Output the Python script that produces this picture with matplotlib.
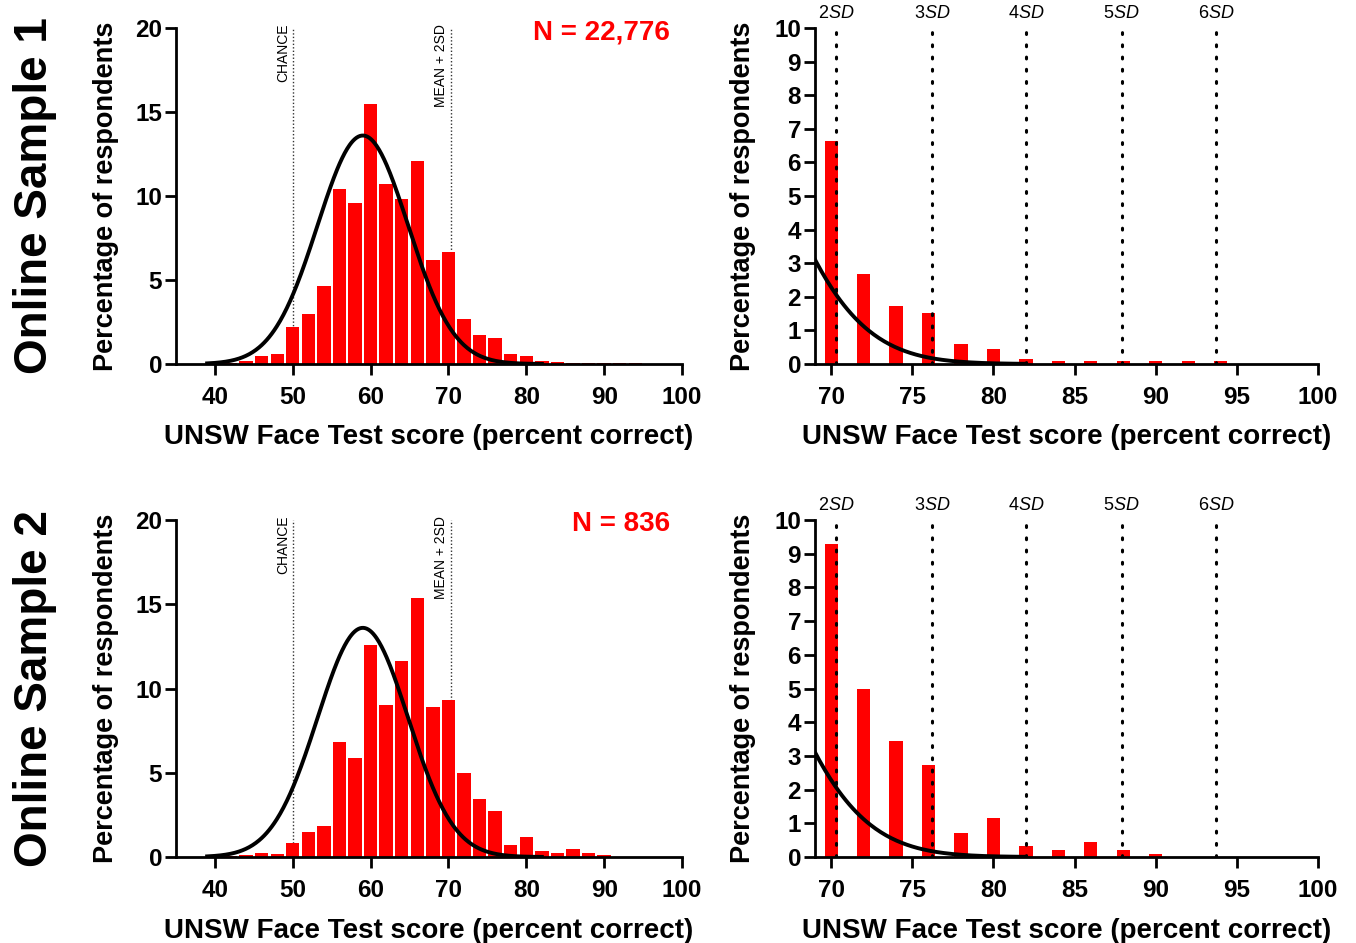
import numpy as np
import matplotlib
matplotlib.use('Agg')
import matplotlib.pyplot as plt

plt.rcParams['font.family'] = 'Liberation Sans'
plt.rcParams['mathtext.fontset'] = 'custom'
plt.rcParams['mathtext.rm'] = 'Liberation Sans:italic'
plt.rcParams['mathtext.it'] = 'Liberation Sans:italic'

# score bins (percent correct)
scores1 = [40, 42, 44, 46, 48, 50, 52, 54, 56, 58, 60, 62, 64, 66, 68,
           70, 72, 74, 76, 78, 80, 82, 84, 86, 88, 90, 92, 94]
pct1 = [0.1, 0.08, 0.2, 0.5, 0.6, 2.2, 3.0, 4.65, 10.4, 9.6, 15.5, 10.7, 9.8, 12.1, 6.2,
        6.65, 2.67, 1.73, 1.53, 0.6, 0.45, 0.15, 0.1, 0.08, 0.08, 0.08, 0.08, 0.08]

scores2 = [40, 42, 44, 46, 48, 50, 52, 54, 56, 58, 60, 62, 64, 66, 68,
           70, 72, 74, 76, 78, 80, 82, 84, 86, 88, 90]
pct2 = [0.1, 0.05, 0.14, 0.26, 0.16, 0.86, 1.47, 1.83, 6.85, 5.87, 12.6, 9.03, 11.66, 15.36, 8.88,
        9.3, 5.0, 3.45, 2.73, 0.7, 1.17, 0.34, 0.22, 0.45, 0.22, 0.1]

n_labels = ['N = 22,776', 'N = 836']
row_labels = ['Online Sample 1', 'Online Sample 2']

# fitted normal curve (norms)
fit_mean = 59.0
fit_sd = 5.82
fit_peak = 13.6

chance = 50
mean_2sd = 70.3
sd_pos = [70.3, 76.2, 82.0, 87.9, 93.7]
sd_names = ['2', '3', '4', '5', '6']

RED = '#FF0000'
W, H = 1356, 943
fig = plt.figure(figsize=(W / 100, H / 100), dpi=100)


def style(ax):
    for s in ['top', 'right']:
        ax.spines[s].set_visible(False)
    for s in ['left', 'bottom']:
        ax.spines[s].set_linewidth(2.0)
    ax.tick_params(width=2.0, length=8, labelsize=17.5)
    for lab in ax.get_xticklabels() + ax.get_yticklabels():
        lab.set_fontweight('bold')


def px_axes(left, top, right, bottom):
    return fig.add_axes([left / W, 1 - bottom / H, (right - left) / W, (bottom - top) / H])


rows = [(28, 364), (520, 857)]
data = [(scores1, pct1), (scores2, pct2)]

for i in range(2):
    top, bottom = rows[i]
    sc, pc = data[i]
    xs = np.linspace(39, 82, 400)
    curve = fit_peak * np.exp(-(xs - fit_mean) ** 2 / (2 * fit_sd ** 2))

    # full histogram
    ax = px_axes(176, top, 682, bottom)
    ax.vlines([chance, mean_2sd], 0, 20, colors='#333333', linewidth=1.0,
              linestyles=[(0, (1, 1.5))], zorder=1)
    ax.bar(sc, pc, width=1.72, color=RED, zorder=2)
    ax.plot(xs, curve, color='black', linewidth=2.8, zorder=3)
    ax.text(chance - 0.3, 20.25, 'CHANCE', rotation=90, ha='right', va='top', fontsize=10)
    ax.text(mean_2sd - 0.3, 20.25, 'MEAN + 2SD', rotation=90, ha='right', va='top', fontsize=10)
    ax.text(98.5, 19.75, n_labels[i], ha='right', va='center', color=RED,
            fontsize=20, fontweight='bold')
    ax.set_xlim(35, 100)
    ax.set_ylim(0, 20)
    ax.set_xticks(range(40, 101, 10))
    ax.set_yticks(range(0, 21, 5))
    ax.tick_params(axis='x', pad=8)
    ax.tick_params(axis='y', pad=2)
    ax.set_xlabel('UNSW Face Test score (percent correct)', fontsize=20, fontweight='bold')
    ax.set_ylabel('Percentage of respondents', fontsize=19.5, fontweight='bold')
    ax.xaxis.set_label_coords(0.5, -0.18)
    ax.yaxis.set_label_coords(-0.112, 0.5)
    style(ax)

    # upper tail
    ax2 = px_axes(815, top, 1318, bottom)
    tail_x = [s for s in sc if s >= 70]
    tail_y = [p for s, p in zip(sc, pc) if s >= 70]
    ax2.bar(tail_x, tail_y, width=0.82, color=RED, zorder=2)
    ax2.plot(xs, curve, color='black', linewidth=2.8, zorder=3)
    ax2.vlines(sd_pos, 0, 10, colors='black', linewidth=2.2,
               linestyles=[(0, (0.6, 3.4))], capstyle='round', zorder=4)
    for xpos, nm in zip(sd_pos, sd_names):
        ax2.text(xpos, 1.042, nm + r'$\mathit{SD}$', transform=ax2.get_xaxis_transform(),
                 ha='center', va='center', fontsize=13)
    ax2.set_xlim(69, 100)
    ax2.set_ylim(0, 10)
    ax2.set_xticks(range(70, 101, 5))
    ax2.set_yticks(range(0, 11))
    ax2.tick_params(axis='x', pad=8)
    ax2.tick_params(axis='y', pad=2)
    ax2.set_xlabel('UNSW Face Test score (percent correct)', fontsize=20, fontweight='bold')
    ax2.set_ylabel('Percentage of respondents', fontsize=19.5, fontweight='bold')
    ax2.xaxis.set_label_coords(0.5, -0.18)
    ax2.yaxis.set_label_coords(-0.117, 0.5)
    style(ax2)

    fig.text(35 / W, 1 - (top + bottom) / 2 / H, row_labels[i], rotation=90,
             ha='center', va='center', fontsize=33, fontweight='bold')

plt.savefig('out.png', dpi=100)
